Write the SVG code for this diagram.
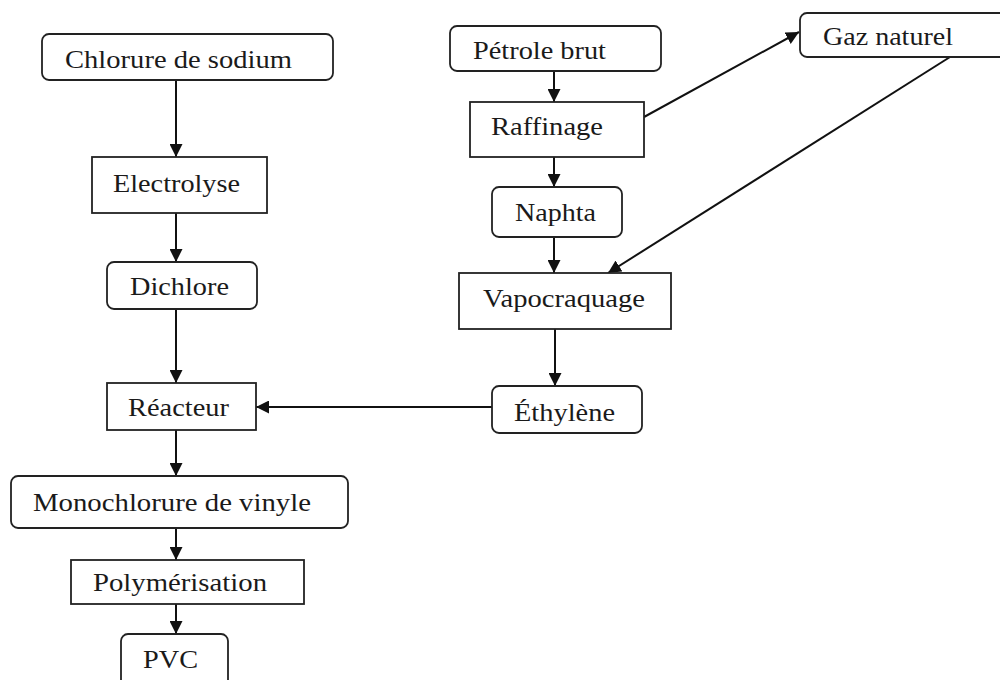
<svg xmlns="http://www.w3.org/2000/svg" width="1000" height="680" viewBox="0 0 1000 680">
<style>
.box{fill:#fff;stroke:#222;stroke-width:1.8}
.t{font-family:"Liberation Serif","Times New Roman",serif;font-size:26px;fill:#1a1a1a}
.c{fill:none;stroke:#111;stroke-width:2}
</style>
<defs>
<marker id="ah" viewBox="0 0 12 12" refX="12" refY="6" markerWidth="13" markerHeight="13" markerUnits="userSpaceOnUse" orient="auto">
<path d="M0,0 L12,6 L0,12 Z" fill="#111"/>
</marker>
</defs>
<rect width="1000" height="680" fill="#fff"/>
<g id="connectors">
<line class="c" x1="176" y1="80" x2="176" y2="157" marker-end="url(#ah)"/>
<line class="c" x1="176" y1="213" x2="176" y2="262" marker-end="url(#ah)"/>
<line class="c" x1="176" y1="309" x2="176" y2="383" marker-end="url(#ah)"/>
<line class="c" x1="176" y1="430" x2="176" y2="476" marker-end="url(#ah)"/>
<line class="c" x1="176" y1="528" x2="176" y2="560" marker-end="url(#ah)"/>
<line class="c" x1="176" y1="604" x2="176" y2="634" marker-end="url(#ah)"/>
<line class="c" x1="554" y1="71" x2="554" y2="102" marker-end="url(#ah)"/>
<line class="c" x1="554" y1="157" x2="554" y2="187" marker-end="url(#ah)"/>
<line class="c" x1="554" y1="237" x2="554" y2="273" marker-end="url(#ah)"/>
<line class="c" x1="555" y1="329" x2="555" y2="386" marker-end="url(#ah)"/>
<line class="c" x1="644" y1="117" x2="799" y2="32" marker-end="url(#ah)"/>
<line class="c" x1="950" y1="57" x2="608" y2="273" marker-end="url(#ah)"/>
<line class="c" x1="492" y1="407" x2="256" y2="407" marker-end="url(#ah)"/>
</g>
<g id="chlorure"><rect class="box" x="42" y="34" width="291" height="46" rx="7"/><text class="t" x="65" y="68" textLength="227" lengthAdjust="spacingAndGlyphs">Chlorure de sodium</text></g>
<g id="electrolyse"><rect class="box" x="92" y="157" width="175" height="56"/><text class="t" x="113" y="192" textLength="127" lengthAdjust="spacingAndGlyphs">Electrolyse</text></g>
<g id="dichlore"><rect class="box" x="107" y="262" width="150" height="47" rx="7"/><text class="t" x="130" y="295" textLength="99" lengthAdjust="spacingAndGlyphs">Dichlore</text></g>
<g id="reacteur"><rect class="box" x="107" y="383" width="149" height="47"/><text class="t" x="128" y="416" textLength="101" lengthAdjust="spacingAndGlyphs">Réacteur</text></g>
<g id="monochlorure"><rect class="box" x="11" y="476" width="337" height="52" rx="7"/><text class="t" x="33" y="511" textLength="278" lengthAdjust="spacingAndGlyphs">Monochlorure de vinyle</text></g>
<g id="polymerisation"><rect class="box" x="71" y="560" width="233" height="44"/><text class="t" x="93" y="591" textLength="174" lengthAdjust="spacingAndGlyphs">Polymérisation</text></g>
<g id="pvc"><rect class="box" x="121" y="634" width="107" height="56" rx="7"/><text class="t" x="143" y="668" textLength="55" lengthAdjust="spacingAndGlyphs">PVC</text></g>
<g id="petrole"><rect class="box" x="450" y="26" width="211" height="45" rx="7"/><text class="t" x="473" y="59" textLength="133" lengthAdjust="spacingAndGlyphs">Pétrole brut</text></g>
<g id="raffinage"><rect class="box" x="470" y="102" width="174" height="55"/><text class="t" x="491" y="135" textLength="112" lengthAdjust="spacingAndGlyphs">Raffinage</text></g>
<g id="naphta"><rect class="box" x="492" y="187" width="130" height="50" rx="7"/><text class="t" x="515" y="221" textLength="81" lengthAdjust="spacingAndGlyphs">Naphta</text></g>
<g id="vapocraquage"><rect class="box" x="459" y="273" width="212" height="56"/><text class="t" x="483" y="307" textLength="162" lengthAdjust="spacingAndGlyphs">Vapocraquage</text></g>
<g id="gaz"><rect class="box" x="800" y="13" width="215" height="44" rx="7"/><text class="t" x="823" y="45" textLength="130" lengthAdjust="spacingAndGlyphs">Gaz naturel</text></g>
<g id="ethylene"><rect class="box" x="492" y="386" width="150" height="47" rx="7"/><text class="t" x="514" y="421" textLength="101" lengthAdjust="spacingAndGlyphs">Éthylène</text></g>
</svg>
